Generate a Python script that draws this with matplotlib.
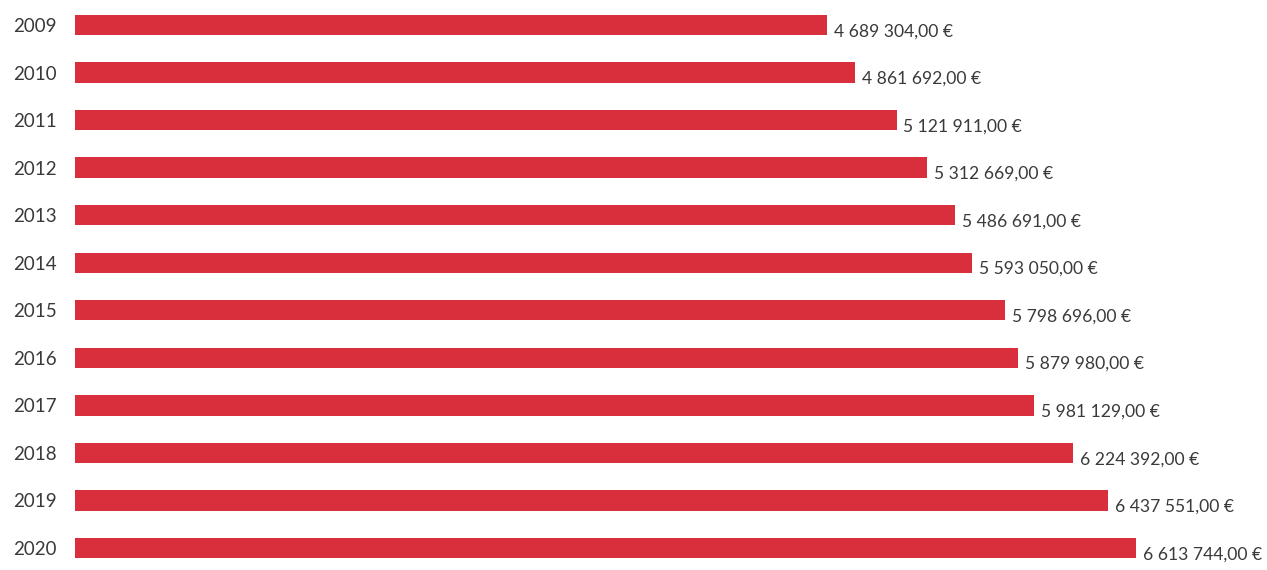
import matplotlib
matplotlib.use("Agg")
import matplotlib.pyplot as plt

years = ["2009", "2010", "2011", "2012", "2013", "2014",
         "2015", "2016", "2017", "2018", "2019", "2020"]
amounts = [4689304.00, 4861692.00, 5121911.00, 5312669.00, 5486691.00, 5593050.00,
           5798696.00, 5879980.00, 5981129.00, 6224392.00, 6437551.00, 6613744.00]

plt.rcParams["font.family"] = ["Lato", "DejaVu Sans"]

W, H, DPI = 1267, 570, 100
fig = plt.figure(figsize=(W / DPI, H / DPI), dpi=DPI)
fig.patch.set_facecolor("white")

left_px = 75
ax = fig.add_axes([left_px / W, 0, 1 - left_px / W, 1])

bar_color = "#d92e3c"
text_color = "#3a3a3a"

pos = list(range(len(years)))
ax.barh(pos, amounts, height=0.43, color=bar_color, edgecolor="none")

ax.set_xlim(0, (W - left_px) / 1.604e-4)
ax.set_ylim(11.463, -0.526)


def fmt_eur(v):
    whole, cents = f"{v:,.2f}".split(".")
    return whole.replace(",", " ") + "," + cents + " €"


for p, v in zip(pos, amounts):
    ax.annotate(fmt_eur(v), xy=(v, p), xytext=(5, -4.5), textcoords="offset points",
                va="center", ha="left", fontsize=12.6, color=text_color)

ax.set_yticks(pos)
ax.set_yticklabels(years, fontsize=13.5, color=text_color)
ax.tick_params(axis="y", length=0, pad=13)
ax.set_xticks([])
for s in ax.spines.values():
    s.set_visible(False)

fig.savefig("out.png", dpi=DPI, facecolor="white")
